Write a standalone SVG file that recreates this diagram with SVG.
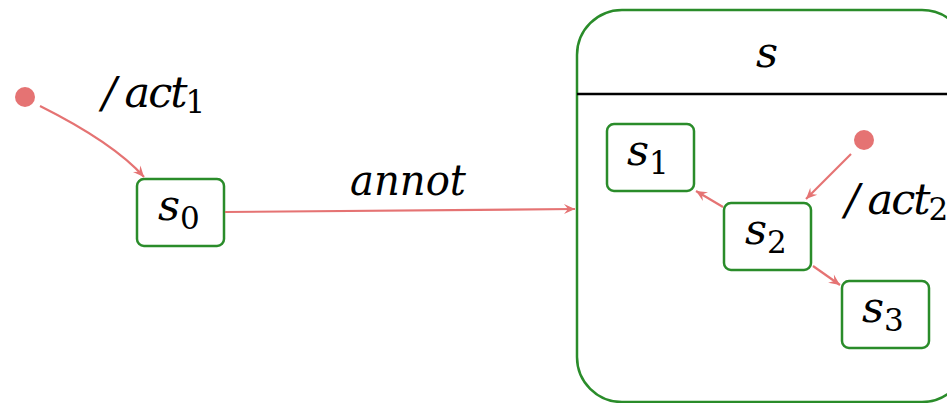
<svg xmlns="http://www.w3.org/2000/svg" width="947" height="403" viewBox="0 0 947 403">
  <style>
    .state { fill: #ffffff; stroke: #2a8c2a; stroke-width: 2.5; }
    .edge { fill: none; stroke: #e57373; stroke-width: 2.2; }
    .init { fill: #e57373; }
    .lbl { font-family: "DejaVu Serif", "Liberation Serif", serif; font-style: italic; font-size: 43px; fill: #000; }
    .sub { font-style: normal; font-size: 31px; }
    .tight { letter-spacing: -2px; }
  </style>
  <defs>
    <marker id="arrow" viewBox="-12 -6 14 12" refX="0" refY="0" markerWidth="14" markerHeight="12" markerUnits="userSpaceOnUse" orient="auto">
      <path d="M0,0 L-11,-5 L-7,0 L-11,5 Z" fill="#e57373"/>
    </marker>
  </defs>

  <!-- composite state s -->
  <g id="s">
    <rect class="state" x="577" y="10" width="390" height="392" rx="45" ry="45"/>
    <line x1="577" y1="94" x2="947" y2="94" stroke="#000" stroke-width="2.5"/>
    <text class="lbl" x="767" y="67" text-anchor="middle">s</text>
  </g>

  <!-- initial pseudostates -->
  <g id="init0"><circle class="init" cx="25" cy="97" r="10"/></g>
  <g id="init1"><circle class="init" cx="864" cy="140" r="10"/></g>

  <!-- simple states -->
  <g id="s0">
    <rect class="state" x="137" y="179" width="87" height="67" rx="7"/>
    <text class="lbl" x="158" y="220">s<tspan class="sub" dy="9">0</tspan></text>
  </g>
  <g id="s1">
    <rect class="state" x="607" y="124" width="87" height="67" rx="7"/>
    <text class="lbl" x="627" y="165">s<tspan class="sub" dy="9">1</tspan></text>
  </g>
  <g id="s2">
    <rect class="state" x="724" y="203" width="87" height="67" rx="7"/>
    <text class="lbl" x="745" y="244">s<tspan class="sub" dy="9">2</tspan></text>
  </g>
  <g id="s3">
    <rect class="state" x="842" y="281" width="87" height="67" rx="7"/>
    <text class="lbl" x="862" y="322">s<tspan class="sub" dy="9">3</tspan></text>
  </g>

  <!-- transitions -->
  <g id="edges">
    <path class="edge" d="M40,106 C80,126 120,150 144,177" marker-end="url(#arrow)"/>
    <path class="edge" d="M225,212 L575,209" marker-end="url(#arrow)"/>
    <path class="edge" d="M851,154 L806,199" marker-end="url(#arrow)"/>
    <path class="edge" d="M723,207 L696,191" marker-end="url(#arrow)"/>
    <path class="edge" d="M813,266 L840,285" marker-end="url(#arrow)"/>
  </g>

  <!-- transition labels -->
  <text class="lbl" x="102" y="107">/<tspan class="tight" dx="8">act</tspan><tspan class="sub" dy="6">1</tspan></text>
  <text class="lbl" x="408" y="195" text-anchor="middle" textLength="116" lengthAdjust="spacingAndGlyphs">annot</text>
  <text class="lbl" x="845" y="214">/<tspan class="tight" dx="8">act</tspan><tspan class="sub" dy="6">2</tspan></text>
</svg>
